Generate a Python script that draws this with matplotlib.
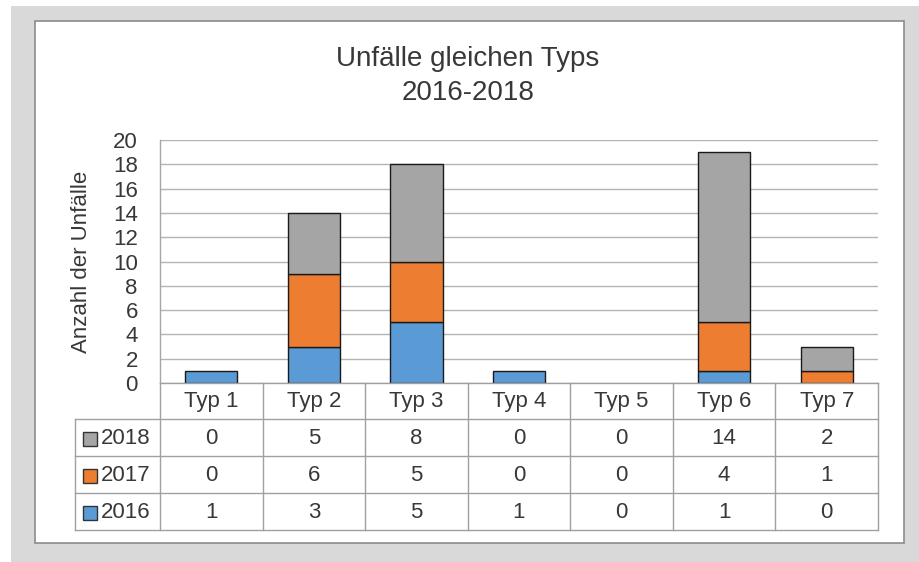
import matplotlib
matplotlib.use("Agg")
import matplotlib.pyplot as plt
from matplotlib.patches import Rectangle
import numpy as np

plt.rcParams['font.family'] = ['Liberation Sans', 'DejaVu Sans']

categories = ["Typ 1", "Typ 2", "Typ 3", "Typ 4", "Typ 5", "Typ 6", "Typ 7"]
v2016 = [1, 3, 5, 1, 0, 1, 0]
v2017 = [0, 6, 5, 0, 0, 4, 1]
v2018 = [0, 5, 8, 0, 0, 14, 2]
series_names = ["2016", "2017", "2018"]
colors = ["#5b9bd5", "#ed7d31", "#a5a5a5"]
title = "Unfälle gleichen Typs\n2016-2018"
ylabel = "Anzahl der Unfälle"
yticks = list(range(0, 21, 2))

W, H = 920, 562
fig = plt.figure(figsize=(W / 100, H / 100), dpi=100)
fig.patch.set_facecolor("white")
TXT = "#383838"
FS = 16

def fx(px):
    return px / W

def fy(py):
    return 1 - py / H

# background frames
fig.patches.append(Rectangle((fx(11), 0), 1 - fx(11), fy(6), transform=fig.transFigure,
                             facecolor="#d9d9d9", edgecolor="none", zorder=-3))
fig.patches.append(Rectangle((fx(35), fy(543)), fx(904 - 35), (543 - 21) / H, transform=fig.transFigure,
                             facecolor="white", edgecolor="#8c8c8c", linewidth=1.2, zorder=-2))

# main axes
L, R, T, B = 160, 878, 140, 383
ax = fig.add_axes([fx(L), fy(B), fx(R - L), (B - T) / H])
ax.set_facecolor("none")
x = np.arange(len(categories))
bottom = np.zeros(len(categories))
for vals, c in zip([v2016, v2017, v2018], colors):
    vals = np.array(vals, dtype=float)
    mask = vals > 0
    ax.bar(x[mask], vals[mask], bottom=bottom[mask], width=0.51, color=c,
           edgecolor="#1a1a1a", linewidth=1.0, zorder=3)
    bottom += vals
ax.set_xlim(-0.5, len(categories) - 0.5)
ax.set_ylim(0, 20)
ax.set_yticks(yticks)
ax.set_yticklabels([str(t) for t in yticks], fontsize=FS, color=TXT)
ax.tick_params(axis="y", length=0, pad=16)
ax.set_xticks([])
ax.grid(axis="y", color="#b3b3b3", linewidth=1.0, zorder=0)
for s in ["top", "right", "bottom"]:
    ax.spines[s].set_visible(False)
ax.spines["left"].set_color("#a6a6a6")
ax.spines["left"].set_linewidth(1.0)

fig.text(fx(82), fy(262), ylabel, rotation=90, ha="center", va="center", fontsize=FS, color=TXT)
fig.text(fx(468), fy(76), title, ha="center", va="center", fontsize=20, color=TXT, linespacing=1.4)

# table axes (pixel coordinates)
tax = fig.add_axes([0, 0, 1, 1])
tax.set_xlim(0, W)
tax.set_ylim(H, 0)
tax.axis("off")
tax.patch.set_alpha(0)
lc = "#a0a0a0"
lw = 1.0
colw = (R - L) / len(categories)
rows_y = [383, 419, 456, 493, 530]
LABX = 75
# horizontals
tax.plot([L, R], [383, 383], color=lc, lw=lw)
for yy in rows_y[1:]:
    tax.plot([LABX, R], [yy, yy], color=lc, lw=lw)
# verticals
tax.plot([LABX, LABX], [419, 530], color=lc, lw=lw)
for i in range(len(categories) + 1):
    xx = L + i * colw
    tax.plot([xx, xx], [383, 530], color=lc, lw=lw)
# header
for i, cat in enumerate(categories):
    tax.text(L + (i + 0.5) * colw, (383 + 419) / 2 + 1, cat, ha="center", va="center", fontsize=FS, color=TXT)
# rows
table_rows = [("2018", v2018, colors[2]), ("2017", v2017, colors[1]), ("2016", v2016, colors[0])]
for r, (name, vals, c) in enumerate(table_rows):
    y0, y1 = rows_y[r + 1], rows_y[r + 2]
    yc = (y0 + y1) / 2 + 1
    tax.add_patch(Rectangle((83, yc - 7), 14, 14, facecolor=c, edgecolor="#333333", lw=1.0))
    tax.text(101, yc, name, ha="left", va="center", fontsize=FS, color=TXT)
    for i, v in enumerate(vals):
        tax.text(L + (i + 0.5) * colw, yc, str(v), ha="center", va="center", fontsize=FS, color=TXT)

fig.savefig("out.png", dpi=100)
